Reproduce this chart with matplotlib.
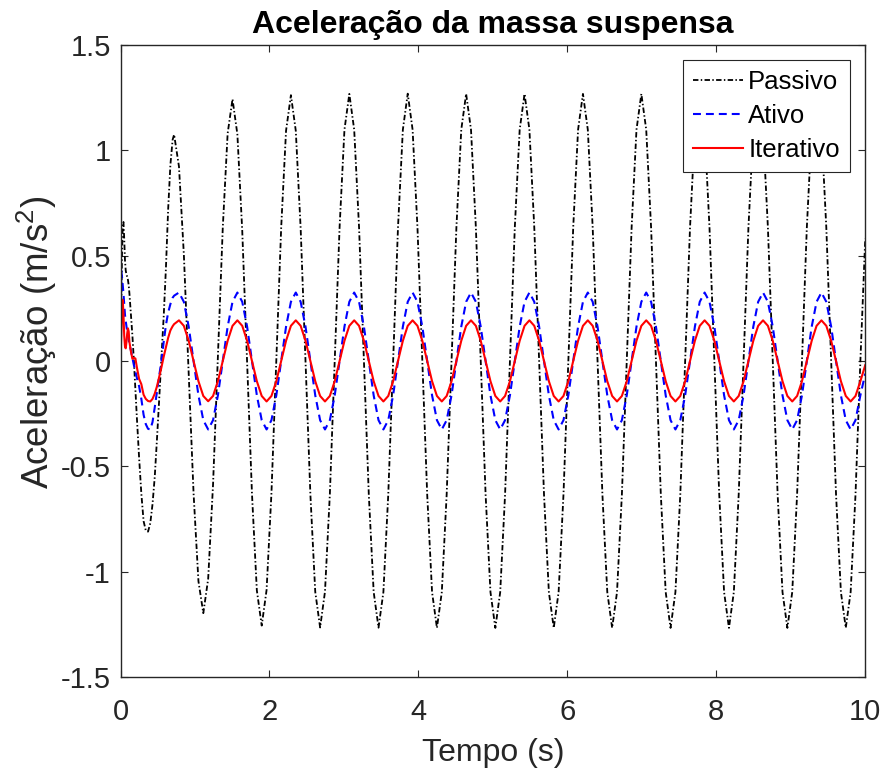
import numpy as np
import matplotlib
matplotlib.use("Agg")
import matplotlib.pyplot as plt

plt.rcParams['font.family'] = ['Liberation Sans', 'DejaVu Sans']
plt.rcParams['mathtext.fontset'] = 'custom'
plt.rcParams['mathtext.rm'] = 'Liberation Sans'

# inicio da simulacao (transitorio), tempos em s
t_inicio = [0.00, 0.01, 0.02, 0.03, 0.04, 0.05, 0.06, 0.07, 0.08, 0.09,
            0.10, 0.11, 0.12, 0.14, 0.16, 0.18, 0.20, 0.22, 0.25, 0.28,
            0.31, 0.34, 0.37, 0.40, 0.43, 0.46, 0.49, 0.52, 0.55, 0.58,
            0.61, 0.64, 0.67, 0.70]
passivo_inicio = [0.00, 0.25, 0.50, 0.64, 0.66, 0.58, 0.48, 0.43, 0.41, 0.40,
                  0.385, 0.36, 0.32, 0.22, 0.12, 0.00, -0.14, -0.27, -0.46, -0.63,
                  -0.76, -0.805, -0.81, -0.77, -0.68, -0.55, -0.37, -0.18, 0.02, 0.21,
                  0.44, 0.72, 0.93, 1.05]
ativo_inicio = [0.00, 0.43, 0.40, 0.36, 0.32, 0.27, 0.22, 0.19, 0.165, 0.14,
                0.125, 0.10, 0.08, 0.05, 0.015, -0.02, -0.05, -0.08, -0.12, -0.18,
                -0.255, -0.30, -0.322, -0.325, -0.29, -0.22, -0.145, -0.07, 0.00, 0.09,
                0.17, 0.23, 0.27, 0.30]
iterativo_inicio = [0.00, 0.12, 0.24, 0.29, 0.22, 0.12, 0.07, 0.06, 0.09, 0.13,
                    0.155, 0.14, 0.09, 0.045, 0.01, 0.015, 0.012, -0.03, -0.085, -0.11,
                    -0.16, -0.18, -0.19, -0.192, -0.18, -0.155, -0.12, -0.075, -0.03, 0.02,
                    0.065, 0.11, 0.145, 0.165]

# regime: uma linha por periodo, 12 amostras por periodo a partir de t = 0.72 s
t0_regime = 0.72
dt_regime = 0.065375
passivo_regime = [
    1.075, 0.923, 0.507, -0.061, -0.629, -1.045, -1.197, -1.034, -0.587, 0.023, 0.633, 1.080,
    1.243, 1.076, 0.618, -0.007, -0.631, -1.089, -1.256, -1.087, -0.627, 0.003, 0.633, 1.093,
    1.262, 1.093, 0.630, -0.002, -0.634, -1.096, -1.265, -1.095, -0.632, 0.002, 0.635, 1.098,
    1.268, 1.098, 0.634, 0.000, -0.633, -1.096, -1.266, -1.097, -0.634, 0.000, 0.634, 1.098,
    1.269, 1.098, 0.634, 0.000, -0.634, -1.097, -1.267, -1.097, -0.634, 0.000, 0.634, 1.098,
    1.268, 1.098, 0.634, 0.000, -0.634, -1.097, -1.267, -1.097, -0.634, 0.000, 0.634, 1.098,
    1.268, 1.098, 0.634, 0.000, -0.634, -1.097, -1.267, -1.097, -0.634, 0.000, 0.634, 1.098,
    1.268, 1.098, 0.634, 0.000, -0.634, -1.097, -1.267, -1.097, -0.634, 0.000, 0.634, 1.098,
    1.268, 1.098, 0.634, 0.000, -0.634, -1.097, -1.267, -1.097, -0.634, 0.000, 0.634, 1.098,
    1.268, 1.098, 0.634, 0.000, -0.634, -1.097, -1.267, -1.097, -0.634, 0.000, 0.634, 1.098,
    1.268, 1.098, 0.634, 0.000, -0.634, -1.097, -1.267, -1.097, -0.634, 0.000, 0.634, 1.098,
    1.268, 1.098, 0.634, 0.000, -0.634, -1.097, -1.267, -1.097, -0.634, 0.000, 0.580,
]
ativo_regime = [
    0.310, 0.325, 0.281, 0.163, 0.000, -0.163, -0.281, -0.325, -0.281, -0.163, 0.000, 0.163,
    0.281, 0.325, 0.281, 0.163, 0.000, -0.163, -0.281, -0.325, -0.281, -0.163, 0.000, 0.163,
    0.281, 0.325, 0.281, 0.163, 0.000, -0.163, -0.281, -0.325, -0.281, -0.163, 0.000, 0.163,
    0.281, 0.325, 0.281, 0.163, 0.000, -0.163, -0.281, -0.325, -0.281, -0.163, 0.000, 0.163,
    0.281, 0.325, 0.281, 0.163, 0.000, -0.163, -0.281, -0.325, -0.281, -0.163, 0.000, 0.163,
    0.281, 0.325, 0.281, 0.163, 0.000, -0.163, -0.281, -0.325, -0.281, -0.163, 0.000, 0.163,
    0.281, 0.325, 0.281, 0.163, 0.000, -0.163, -0.281, -0.325, -0.281, -0.163, 0.000, 0.163,
    0.281, 0.325, 0.281, 0.163, 0.000, -0.163, -0.281, -0.325, -0.281, -0.163, 0.000, 0.163,
    0.281, 0.325, 0.281, 0.163, 0.000, -0.163, -0.281, -0.325, -0.281, -0.163, 0.000, 0.163,
    0.281, 0.325, 0.281, 0.163, 0.000, -0.163, -0.281, -0.325, -0.281, -0.163, 0.000, 0.163,
    0.281, 0.325, 0.281, 0.163, 0.000, -0.163, -0.281, -0.325, -0.281, -0.163, 0.000, 0.163,
    0.281, 0.325, 0.281, 0.163, 0.000, -0.163, -0.281, -0.325, -0.281, -0.163, -0.060,
]
iterativo_regime = [
    0.175, 0.193, 0.167, 0.096, 0.000, -0.096, -0.166, -0.191, -0.166, -0.096, 0.000, 0.096,
    0.167, 0.193, 0.167, 0.096, 0.000, -0.096, -0.166, -0.192, -0.166, -0.096, 0.000, 0.096,
    0.167, 0.193, 0.167, 0.096, 0.000, -0.096, -0.166, -0.192, -0.166, -0.096, 0.000, 0.096,
    0.167, 0.193, 0.167, 0.096, 0.000, -0.096, -0.166, -0.192, -0.166, -0.096, 0.000, 0.096,
    0.167, 0.193, 0.167, 0.096, 0.000, -0.096, -0.166, -0.192, -0.166, -0.096, 0.000, 0.096,
    0.167, 0.193, 0.167, 0.096, 0.000, -0.096, -0.166, -0.192, -0.166, -0.096, 0.000, 0.096,
    0.167, 0.193, 0.167, 0.096, 0.000, -0.096, -0.166, -0.192, -0.166, -0.096, 0.000, 0.096,
    0.167, 0.193, 0.167, 0.096, 0.000, -0.096, -0.166, -0.192, -0.166, -0.096, 0.000, 0.096,
    0.167, 0.193, 0.167, 0.096, 0.000, -0.096, -0.166, -0.192, -0.166, -0.096, 0.000, 0.096,
    0.167, 0.193, 0.167, 0.096, 0.000, -0.096, -0.166, -0.192, -0.166, -0.096, 0.000, 0.096,
    0.167, 0.193, 0.167, 0.096, 0.000, -0.096, -0.166, -0.192, -0.166, -0.096, 0.000, 0.096,
    0.167, 0.193, 0.167, 0.096, 0.000, -0.096, -0.166, -0.192, -0.166, -0.096, -0.020,
]

legenda = ["Passivo", "Ativo", "Iterativo"]
xticks = [0, 2, 4, 6, 8, 10]
yticks = [-1.5, -1, -0.5, 0, 0.5, 1, 1.5]
ytick_labels = ["-1.5", "-1", "-0.5", "0", "0.5", "1", "1.5"]

t_regime = t0_regime + dt_regime * np.arange(len(passivo_regime))
t = np.concatenate([t_inicio, t_regime])
passivo = np.concatenate([passivo_inicio, passivo_regime])
ativo = np.concatenate([ativo_inicio, ativo_regime])
iterativo = np.concatenate([iterativo_inicio, iterativo_regime])

cinza = '#262626'
fig = plt.figure(figsize=(8.85, 7.72), dpi=100)
ax = fig.add_axes([120.5 / 885, 95 / 772, 744.5 / 885, 632 / 772])

ax.plot(t, passivo, color='k', lw=1.3, linestyle=(0, (3.0, 1.3, 0.8, 1.3)), label=legenda[0])
ax.plot(t, ativo, color='#0000FF', lw=1.5, linestyle=(0, (3.8, 2.4)), label=legenda[1])
ax.plot(t, iterativo, color='#FF0000', lw=1.5, label=legenda[2])

ax.set_xlim(0, 10)
ax.set_ylim(-1.5, 1.5)
ax.set_xticks(xticks)
ax.set_xticklabels([str(v) for v in xticks])
ax.set_yticks(yticks)
ax.set_yticklabels(ytick_labels)

ax.tick_params(direction='in', length=5, width=0.8, top=True, right=True,
               labelsize=21, colors=cinza)
ax.tick_params(axis='x', pad=15)
ax.tick_params(axis='y', pad=7)
for s in ax.spines.values():
    s.set_color(cinza)
    s.set_linewidth(1.0)

ax.set_title("Aceleração da massa suspensa", fontsize=23, fontweight='bold', pad=9)
ax.set_xlabel("Tempo (s)", fontsize=23, color=cinza, labelpad=9)
ax.set_ylabel("Aceleração (m/s$^2$)", fontsize=26.5, color=cinza)
ax.yaxis.set_label_coords(-0.082, 0.53)

leg = ax.legend(loc='upper right', bbox_to_anchor=(0.9799, 0.9763), borderaxespad=0,
                fontsize=18.5, handlelength=1.95, handletextpad=0.2, labelspacing=0.38,
                borderpad=0.4, fancybox=False, framealpha=1)
leg.get_frame().set_edgecolor(cinza)
leg.get_frame().set_linewidth(0.8)

fig.savefig("out.png", dpi=100)
